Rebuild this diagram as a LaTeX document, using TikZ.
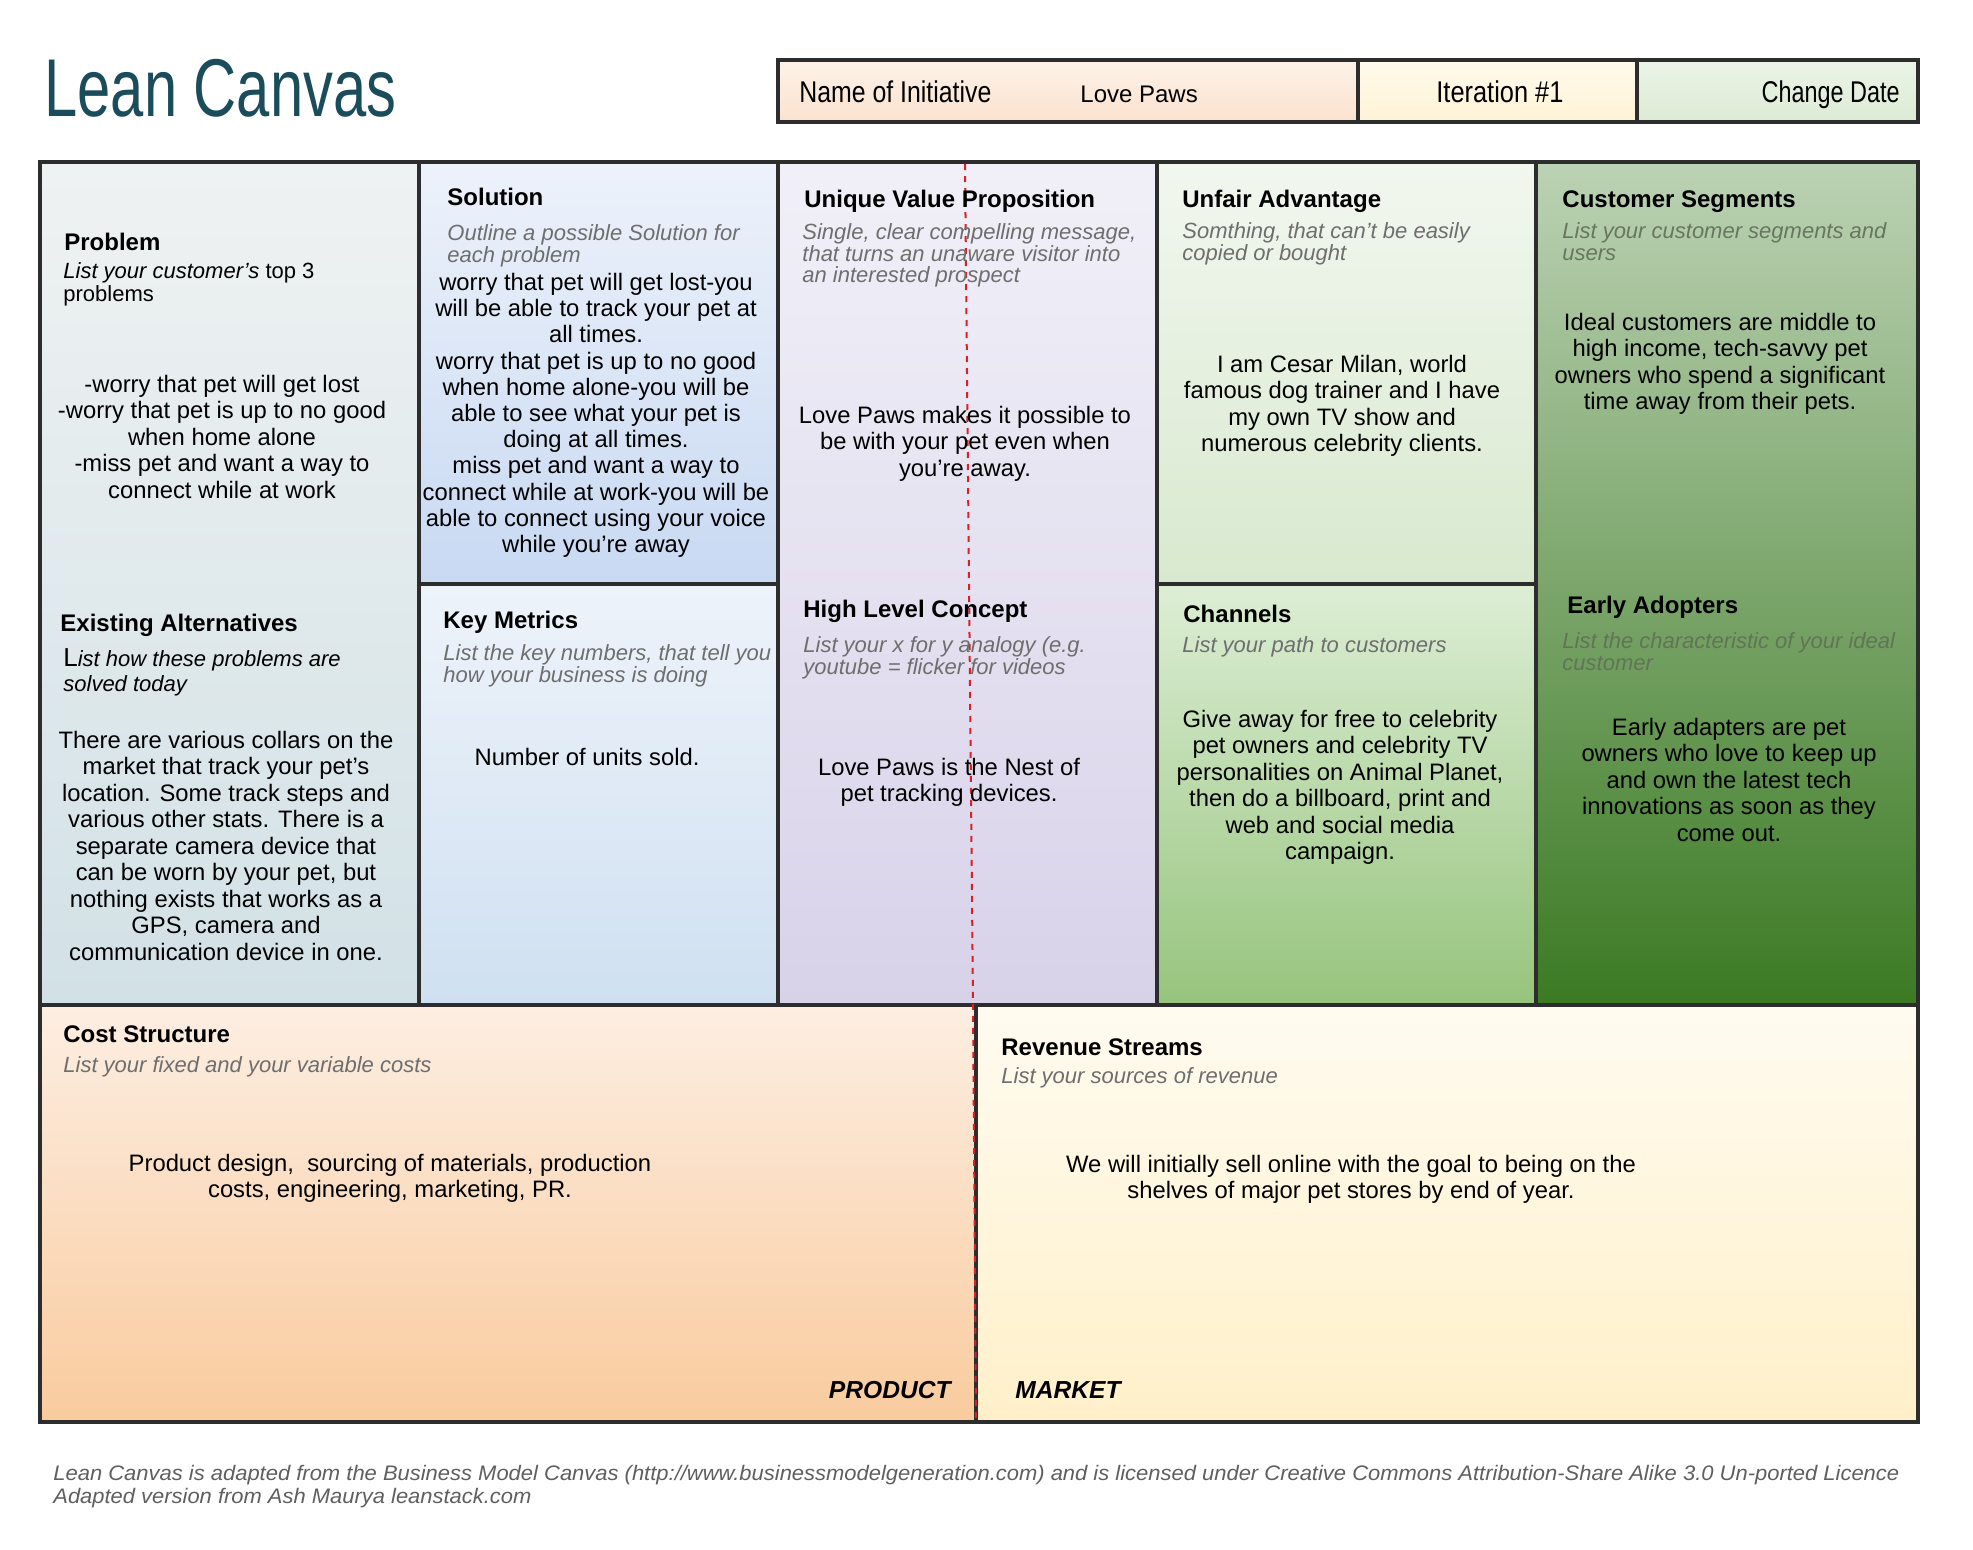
\documentclass[tikz,border=0pt]{standalone}
\usepackage{fontspec}
\setmainfont{Liberation Sans}
\usepackage{graphicx}
\usetikzlibrary{positioning}
\definecolor{titleteal}{RGB}{26,76,92}
\definecolor{framegray}{RGB}{45,45,45}
\definecolor{hintgray}{RGB}{110,110,110}
\definecolor{footgray}{RGB}{95,95,95}
\definecolor{dashred}{RGB}{220,30,40}
\definecolor{probtop}{RGB}{239,242,242}
\definecolor{probbot}{RGB}{210,225,230}
\definecolor{soltop}{RGB}{237,242,251}
\definecolor{solbot}{RGB}{200,217,242}
\definecolor{kmtop}{RGB}{238,243,250}
\definecolor{kmbot}{RGB}{207,224,241}
\definecolor{uvptop}{RGB}{241,240,248}
\definecolor{uvpbot}{RGB}{216,210,233}
\definecolor{uatop}{RGB}{242,247,239}
\definecolor{uabot}{RGB}{216,233,207}
\definecolor{chtop}{RGB}{221,238,213}
\definecolor{chbot}{RGB}{150,196,125}
\definecolor{cstop}{RGB}{188,210,180}
\definecolor{csbot}{RGB}{59,122,35}
\definecolor{costtop}{RGB}{253,238,226}
\definecolor{costbot}{RGB}{249,203,158}
\definecolor{revtop}{RGB}{255,251,240}
\definecolor{revbot}{RGB}{255,240,201}
\definecolor{nametop}{RGB}{253,242,232}
\definecolor{namebot}{RGB}{251,226,207}
\definecolor{itertop}{RGB}{255,250,235}
\definecolor{iterbot}{RGB}{255,243,214}
\definecolor{datetop}{RGB}{236,244,232}
\definecolor{datebot}{RGB}{220,235,212}
\definecolor{greenhint}{RGB}{98,116,88}
\newcommand{\apos}{{\char"27}}

\begin{document}
\begin{tikzpicture}[
  x=0.5pt, y=-0.5pt,
  cellline/.style={draw=framegray, line width=1.6pt},
  frameline/.style={draw=framegray, line width=2.4pt},
  head/.style={anchor=base west, inner sep=0pt,
    font=\bfseries\fontsize{12}{12}\selectfont},
  hint/.style={anchor=north west, yshift=7.9pt, inner sep=0pt, align=left,
    text=hintgray, font=\itshape\fontsize{11}{10.75}\selectfont},
  body/.style={anchor=north, yshift=8.6pt, inner sep=0pt, align=center,
    font=\fontsize{11.9}{13.25}\selectfont},
  tag/.style={inner sep=0pt, font=\bfseries\itshape\fontsize{12.3}{12.3}\selectfont},
  foot/.style={anchor=base west, inner sep=0pt, text=footgray,
    font=\itshape\fontsize{10.5}{10.5}\selectfont}
]
\useasboundingbox[fill=white] (0,0) rectangle (1973,1549);

% title and header bar
\node[anchor=base west, inner sep=0pt, text=titleteal] (title) at (44,116)
  {\resizebox{176pt}{\height}{\fontsize{41}{41}\selectfont Lean Canvas}};

\foreach \xa/\xb/\ct/\cb in {778/1358/nametop/namebot,
    1358/1637/itertop/iterbot, 1637/1918/datetop/datebot}
  \shade[top color=\ct, bottom color=\cb] (\xa,60) rectangle (\xb,122);
\draw[frameline] (778,60) rectangle (1918,122);
\draw[cellline] (1358,60) -- (1358,122);
\draw[cellline] (1637,60) -- (1637,122);

\node[anchor=base west, inner sep=0pt] (initiative) at (799,102)
  {\resizebox{96pt}{\height}{\fontsize{15}{15}\selectfont Name of Initiative}};
\node[anchor=base west, inner sep=0pt, font=\fontsize{12}{12}\selectfont]
  (pname) at (1080,102) {Love Paws};
\node[anchor=base west, inner sep=0pt] (iteration) at (1436,102)
  {\resizebox{63.5pt}{\height}{\fontsize{15}{15}\selectfont Iteration \#1}};
\node[anchor=base east, inner sep=0pt] (cdate) at (1900,102)
  {\resizebox{69pt}{\height}{\fontsize{15}{15}\selectfont Change Date}};

% canvas cells
\foreach \xa/\ya/\xb/\yb/\ct/\cb in {
    40/162/419/1005/probtop/probbot,
    419/162/778/584/soltop/solbot,
    419/584/778/1005/kmtop/kmbot,
    778/162/1157/1005/uvptop/uvpbot,
    1157/162/1536/584/uatop/uabot,
    1157/584/1536/1005/chtop/chbot,
    1536/162/1918/1005/cstop/csbot,
    40/1005/976/1422/costtop/costbot,
    976/1005/1918/1422/revtop/revbot}
  \shade[top color=\ct, bottom color=\cb] (\xa,\ya) rectangle (\xb,\yb);

\foreach \xx in {419,778,1157,1536}
  \draw[cellline] (\xx,162) -- (\xx,1005);
\draw[cellline] (419,584) -- (778,584);
\draw[cellline] (1157,584) -- (1536,584);
\draw[cellline] (40,1005) -- (1918,1005);
\draw[cellline] (976,1005) -- (976,1422);
\draw[frameline] (40,162) rectangle (1918,1422);
\draw[dashred, dashed, line width=1pt] (965,164) -- (973,1003) -- (976,1420);

% Problem / Existing Alternatives
\node[head] (probhead) at (64,250) {Problem};
\node[hint, text=black, font=\fontsize{11}{11.5}\selectfont] (probhint) at (63,278)
  {\textit{List your customer\apos s} top 3\\problems};
\node[body] (probtext) at (222,392)
  {-worry that pet will get lost\\-worry that pet is up to no good\\when home alone\\
   -miss pet and want a way to\\connect while at work};

\node[head] (althead) at (60,631) {Existing Alternatives};
\node[hint, yshift=1.4pt, text=black, font=\fontsize{11}{12.5}\selectfont] (althint) at (63,667)
  {{\fontsize{13}{13}\selectfont L}\textit{ist how these problems are}\\\textit{solved today}};
\node[body] (alttext) at (226,748)
  {There are various collars on the\\market that track your pet’s\\
   location. Some track steps and\\various other stats. There is a\\
   separate camera device that\\can be worn by your pet, but\\
   nothing exists that works as a\\GPS, camera and\\
   communication device in one.};

% Solution / Key Metrics
\node[head] (solhead) at (447,205) {Solution};
\node[hint] (solhint) at (447,240) {Outline a possible Solution for\\each problem};
\node[body, font=\fontsize{11.9}{13.1}\selectfont] (soltext) at (596,290)
  {worry that pet will get lost-you\\will be able to track your pet at\\all times.\\
   worry that pet is up to no good\\when home alone-you will be\\
   able to see what your pet is\\doing at all times.\\
   miss pet and want a way to\\connect while at work-you will be\\
   able to connect using your voice\\while you’re away};

\node[head] (kmhead) at (443,628) {Key Metrics};
\node[hint] (kmhint) at (443,660)
  {List the key numbers, that tell you\\how your business is doing};
\node[body] (kmtext) at (587,765) {Number of units sold.};

% Unique Value Proposition / High Level Concept
\node[head] (uvphead) at (804,207) {Unique Value Proposition};
\node[hint] (uvphint) at (802,239)
  {Single, clear compelling message,\\that turns an unaware visitor into\\an interested prospect};
\node[body] (uvptext) at (965,423)
  {Love Paws makes it possible to\\be with your pet even when\\you’re away.};

\node[head] (hlchead) at (803,617) {High Level Concept};
\node[hint] (hlchint) at (803,652)
  {List your x for y analogy (e.g.\\youtube = flicker for videos};
\node[body] (hlctext) at (949,775) {Love Paws is the Nest of\\pet tracking devices.};

% Unfair Advantage / Channels
\node[head] (uahead) at (1182,207) {Unfair Advantage};
\node[hint] (uahint) at (1182,238) {Somthing, that can\apos t be easily\\copied or bought};
\node[body] (uatext) at (1342,372)
  {I am Cesar Milan, world\\famous dog trainer and I have\\my own TV show and\\
   numerous celebrity clients.};

\node[head] (chhead) at (1183,622) {Channels};
\node[hint] (chhint) at (1182,652) {List your path to customers};
\node[body] (chtext) at (1340,727)
  {Give away for free to celebrity\\pet owners and celebrity TV\\
   personalities on Animal Planet,\\then do a billboard, print and\\
   web and social media\\campaign.};

% Customer Segments / Early Adopters
\node[head] (cshead) at (1562,207) {Customer Segments};
\node[hint, text=greenhint!80!gray] (cshint) at (1562,238)
  {List your customer segments and\\users};
\node[body] (cstext) at (1720,330)
  {Ideal customers are middle to\\high income, tech-savvy pet\\
   owners who spend a significant\\time away from their pets.};

\node[head] (eahead) at (1567,613) {Early Adopters};
\node[hint, text=greenhint] (eahint) at (1562,648)
  {List the characteristic of your ideal\\customer};
\node[body] (eatext) at (1729,735)
  {Early adapters are pet\\owners who love to keep up\\and own the latest tech\\
   innovations as soon as they\\come out.};

% Cost Structure / Revenue Streams
\node[head] (costhead) at (63,1042) {Cost Structure};
\node[hint] (costhint) at (63,1072) {List your fixed and your variable costs};
\node[body] (costtext) at (390,1171)
  {Product design,~ sourcing of materials, production\\costs, engineering, marketing, PR.};
\node[tag, anchor=base east] (product) at (951,1398) {PRODUCT};

\node[head] (revhead) at (1001,1055) {Revenue Streams};
\node[hint] (revhint) at (1001,1083) {List your sources of revenue};
\node[body] (revtext) at (1351,1172)
  {We will initially sell online with the goal to being on the\\
   shelves of major pet stores by end of year.};
\node[tag, anchor=base west] (market) at (1015,1398) {MARKET};

% footer
\node[foot] (credit) at (53,1480)
  {\resizebox{923pt}{\height}{Lean Canvas is adapted from the Business Model Canvas
   (http://www.businessmodelgeneration.com) and is licensed under Creative Commons
   Attribution-Share Alike 3.0 Un-ported Licence}};
\node[foot] (adapted) at (53,1503)
  {\resizebox{239pt}{\height}{Adapted version from Ash Maurya leanstack.com}};
\end{tikzpicture}
\end{document}
